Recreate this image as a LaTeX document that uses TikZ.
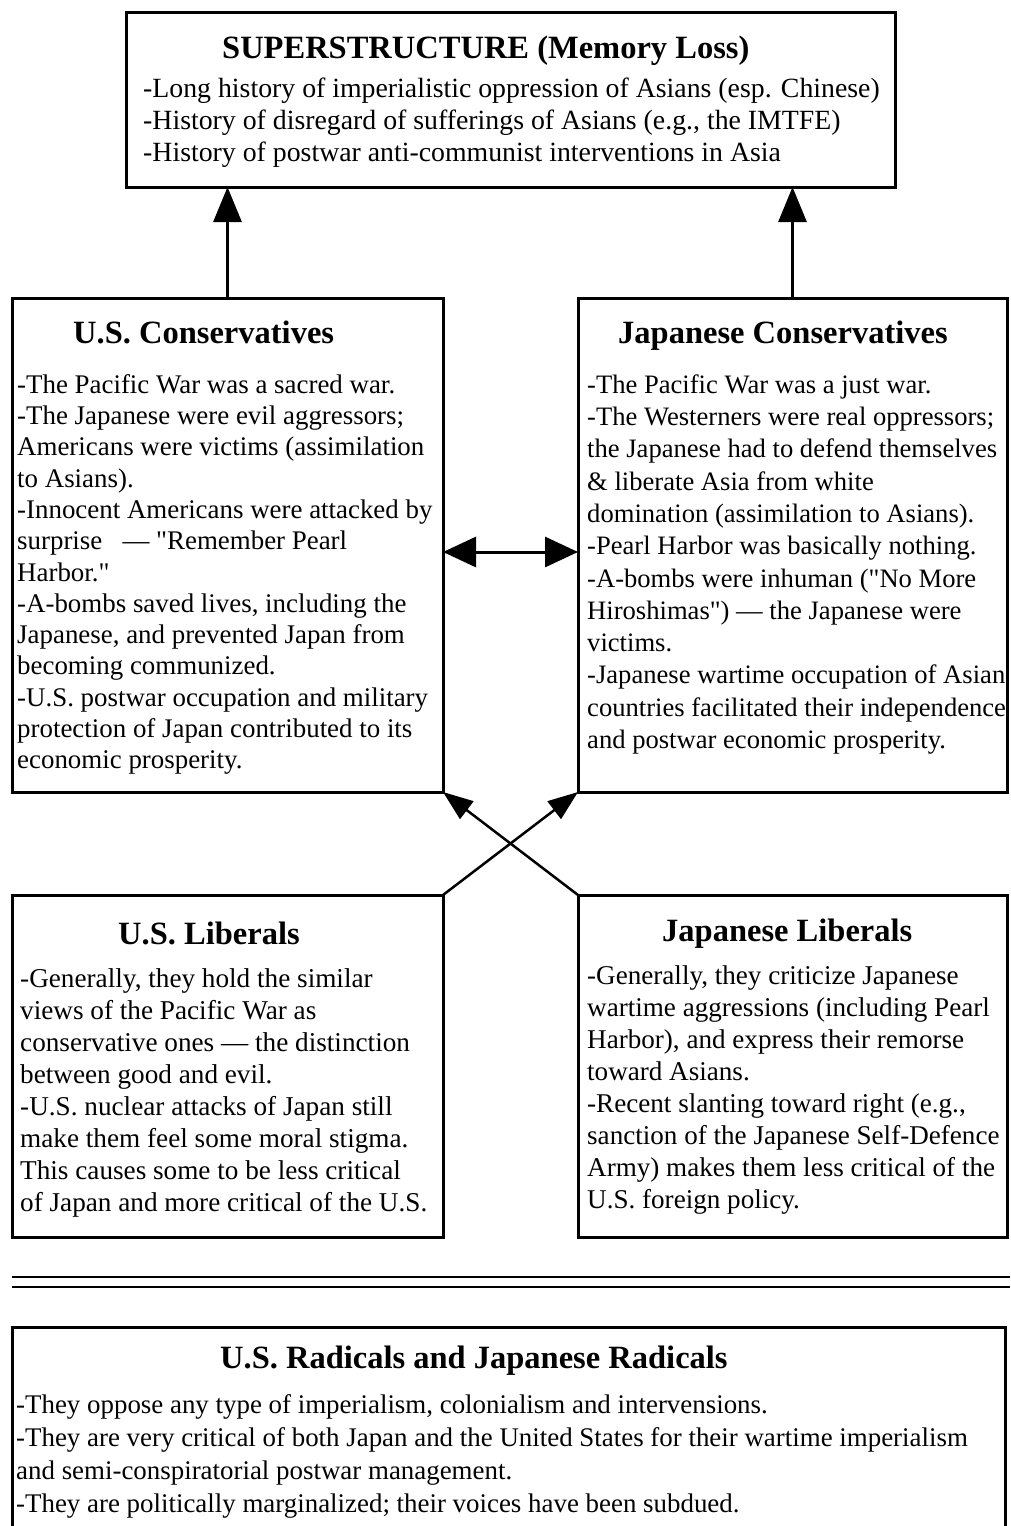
\documentclass[tikz,border=0pt]{standalone}
\usepackage{fontspec}
\setmainfont{Liberation Serif}
\usetikzlibrary{arrows.meta}
\newcommand{\dq}{\textquotedbl}
\begin{document}
\begin{tikzpicture}[x=1pt,y=-1pt,
  box/.style={draw, line width=3pt, inner sep=0pt, outer sep=0pt},
  head/.style={font=\fontsize{32.5}{38}\selectfont\bfseries, inner sep=0pt, anchor=base west},
  body/.style 2 args={font=\fontsize{#1}{#2}\selectfont, align=left, inner sep=0pt, anchor=north west},
  conn/.style={line width=3pt, -{Triangle[length=35pt,width=28pt]}},
  dconn/.style={line width=3pt, {Triangle[length=33pt,width=30pt]}-{Triangle[length=33pt,width=30pt]}},
  xconn/.style={line width=2.5pt, -{Triangle[length=30pt,width=22pt]}},
  rule/.style={line width=2pt},
]
\useasboundingbox (0,0) rectangle (1010,1526);
\clip (0,0) rectangle (1010,1526);

% boxes
\node[box, minimum width=769pt, minimum height=175pt] (sup) at (510.5,99.5) {};
\node[box, minimum width=431pt, minimum height=494pt] (usc) at (227.5,545) {};
\node[box, minimum width=429pt, minimum height=494pt] (jpc) at (792.5,545) {};
\node[box, minimum width=431pt, minimum height=342pt] (usl) at (227.5,1066) {};
\node[box, minimum width=429pt, minimum height=342pt] (jpl) at (792.5,1066) {};
\node[box, minimum width=993pt, minimum height=230pt] (rad) at (508.5,1442) {};

% double rule
\coordinate (r1a) at (12,1277);
\coordinate (r1b) at (1010,1277);
\coordinate (r2a) at (12,1287);
\coordinate (r2b) at (1010,1287);
\draw[rule] (r1a) -- (r1b);
\draw[rule] (r2a) -- (r2b);

% connectors
\draw[conn] (usc.north) -- (usc.north |- sup.south);
\draw[conn] (jpc.north) -- (jpc.north |- sup.south);
\draw[dconn] ([yshift=-7pt]usc.east) -- ([yshift=-7pt]jpc.west);
\draw[xconn] (usl.north east) -- (jpc.south west);
\draw[xconn] (jpl.north west) -- (usc.south east);

% texts
\node[head] (suph) at (222,58) {SUPERSTRUCTURE (Memory Loss)};
\node[body={27.8}{32}] (supb) at (143,74.6) {\strut-Long history of imperialistic oppression of Asians (esp. Chinese)\\
-History of disregard of sufferings of Asians (e.g., the IMTFE)\\
-History of postwar anti-communist interventions in Asia};

\node[head] (usch) at (73,343) {U.S. Conservatives};
\node[body={26.9}{31.3}] (uscb) at (17,371.1) {\strut-The Pacific War was a sacred war.\\
-The Japanese were evil aggressors;\\
Americans were victims (assimilation\\
to Asians).\\
-Innocent Americans were attacked by\\
surprise \ \ — \dq Remember Pearl\\
Harbor.\dq\\
-A-bombs saved lives, including the\\
Japanese, and prevented Japan from\\
becoming communized.\\
-U.S. postwar occupation and military\\
protection of Japan contributed to its\\
economic prosperity.};

\node[head] (jpch) at (618,343) {Japanese Conservatives};
\node[body={26.6}{32.3}] (jpcb) at (587,370.4) {\strut-The Pacific War was a just war.\\
-The Westerners were real oppressors;\\
the Japanese had to defend themselves\\
\& liberate Asia from white\\
domination (assimilation to Asians).\\
-Pearl Harbor was basically nothing.\\
-A-bombs were inhuman (\dq No More\\
Hiroshimas\dq) — the Japanese were\\
victims.\\
-Japanese wartime occupation of Asian\\
countries facilitated their independence\\
and postwar economic prosperity.};

\node[head] (uslh) at (118,944) {U.S. Liberals};
\node[body={27.2}{32.1}] (uslb) at (20,964.5) {\strut-Generally, they hold the similar\\
views of the Pacific War as\\
conservative ones — the distinction\\
between good and evil.\\
-U.S. nuclear attacks of Japan still\\
make them feel some moral stigma.\\
This causes some to be less critical\\
of Japan and more critical of the U.S.};

\node[head] (jplh) at (662,941) {Japanese Liberals};
\node[body={27.1}{32}] (jplb) at (587,961.6) {\strut-Generally, they criticize Japanese\\
wartime aggressions (including Pearl\\
Harbor), and express their remorse\\
toward Asians.\\
-Recent slanting toward right (e.g.,\\
sanction of the Japanese Self-Defence\\
Army) makes them less critical of the\\
U.S. foreign policy.};

\node[head] (radh) at (220,1368) {U.S. Radicals and Japanese Radicals};
\node[body={26.9}{33}] (radb) at (16,1389.9) {\strut-They oppose any type of imperialism, colonialism and intervensions.\\
-They are very critical of both Japan and the United States for their wartime imperialism\\
and semi-conspiratorial postwar management.\\
-They are politically marginalized; their voices have been subdued.};
\end{tikzpicture}
\end{document}
